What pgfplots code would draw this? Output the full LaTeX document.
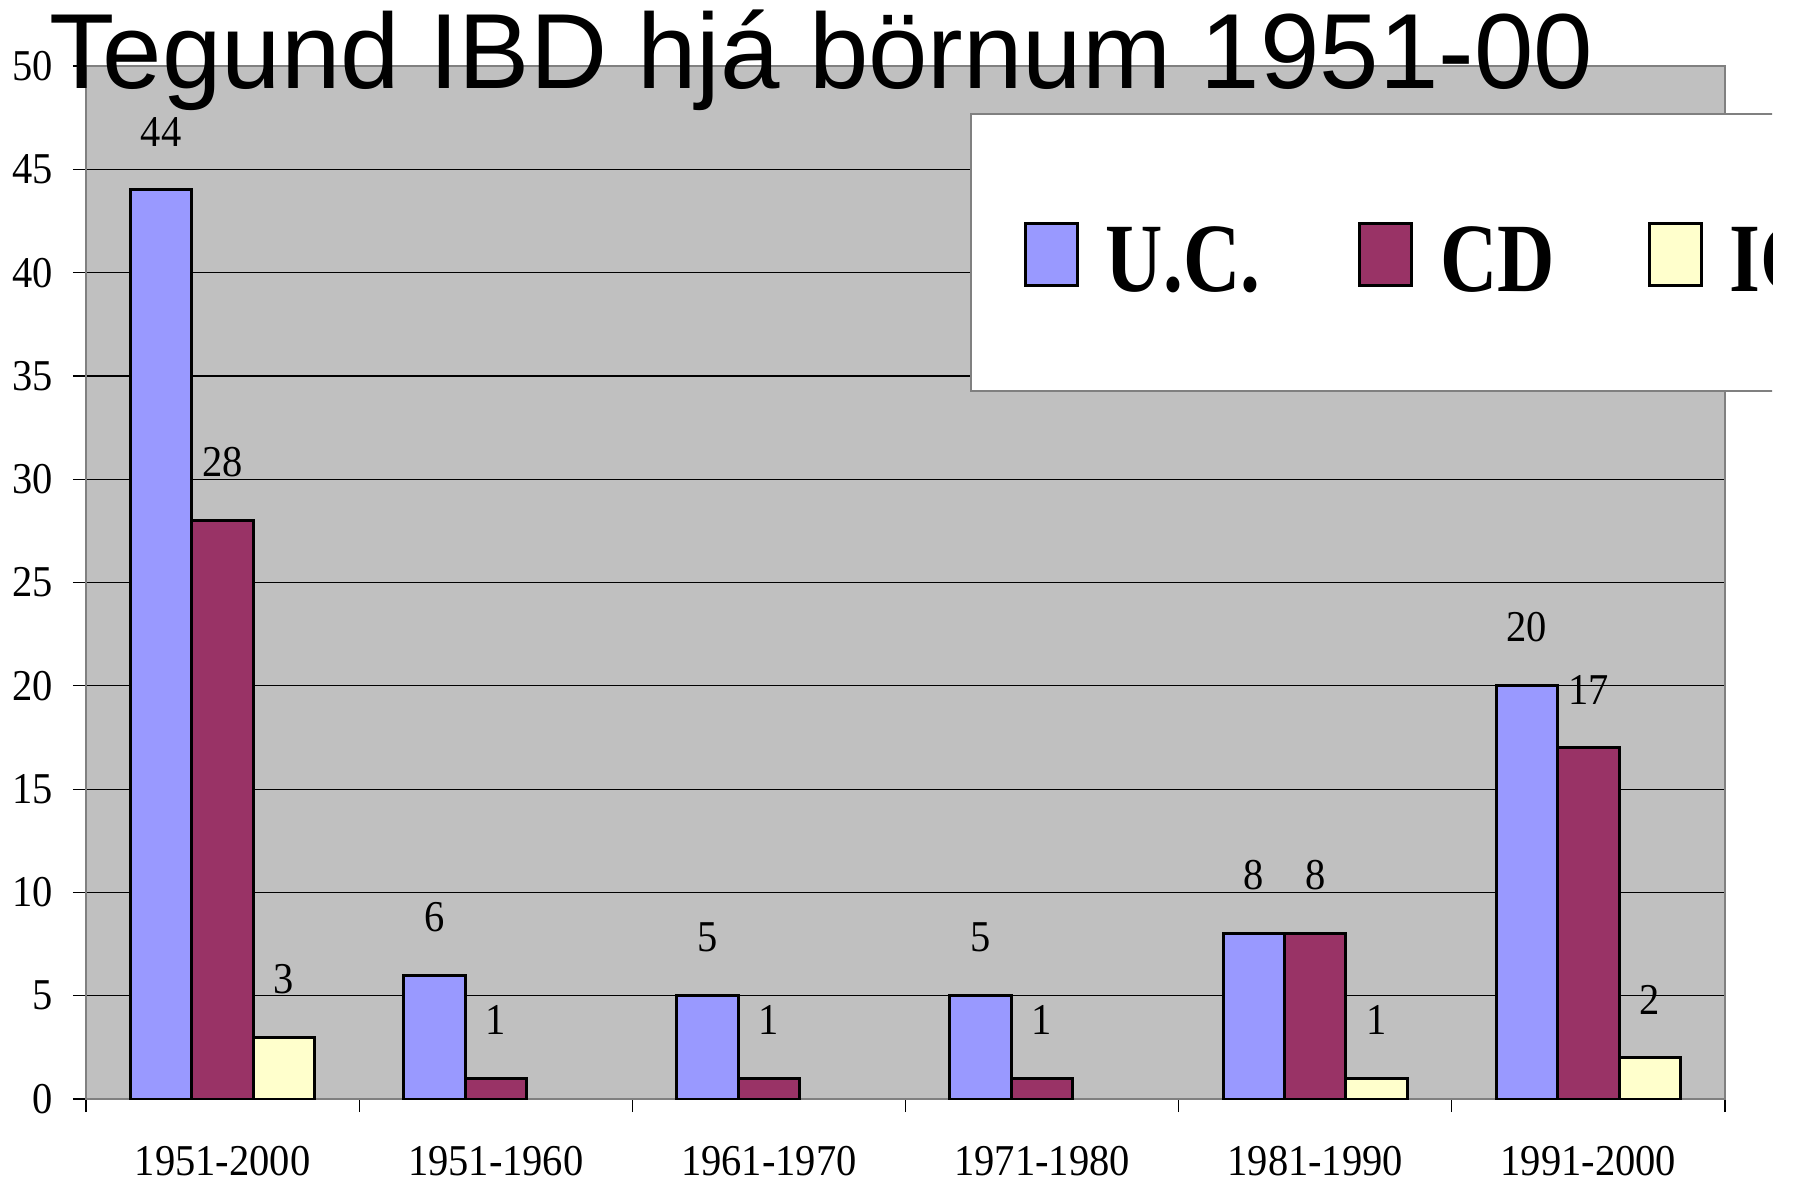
\documentclass[border=0pt]{standalone}
\usepackage{graphicx}
\usepackage{fontspec}
\setmainfont{Liberation Serif}
\newfontfamily\titlefont{Liberation Sans}
\usepackage{pgfplots}
\pgfplotsset{compat=1.18}
\definecolor{bgray}{HTML}{C0C0C0}
\definecolor{ucc}{HTML}{9999FF}
\definecolor{cdc}{HTML}{993366}
\definecolor{icc}{HTML}{FFFFCC}
\definecolor{framec}{HTML}{808080}
\newcommand{\sx}[1]{\scalebox{0.92}[1]{#1}}
\newcommand{\lx}[1]{\raisebox{-3pt}[32.4pt][0pt]{\scalebox{0.81}[1]{#1}}}
\pgfplotsset{mylegend/.style={legend image code/.code={\path[draw=none,fill=none] (0pt,-15.5pt) rectangle (26pt,19.5pt);\draw[##1] (0pt,-15.5pt) rectangle (26pt,15.5pt);}}}
\begin{document}
\begin{tikzpicture}
\useasboundingbox (0,0) rectangle (897pt,-591pt);
\clip (0,0) rectangle (886pt,-591pt);
\begin{axis}[
  at={(43pt,-549.5pt)}, anchor=south west,
  scale only axis, width=819.5pt, height=516.5pt,
  xmin=-0.5, xmax=5.5, ymin=0, ymax=50,
  axis background/.style={fill=bgray},
  axis line style={draw=framec, line width=1.2pt},
  ybar=0pt, bar width=0.225,
  xtick={-0.5,0.5,...,5.5},
  x tick label as interval,
  xticklabels={\sx{1951-2000},\sx{1951-1960},\sx{1961-1970},\sx{1971-1980},\sx{1981-1990},\sx{1991-2000}},
  ytick={0,5,...,50},
  yticklabels={\sx{0},\sx{5},\sx{10},\sx{15},\sx{20},\sx{25},\sx{30},\sx{35},\sx{40},\sx{45},\sx{50}},
  tick pos=left, tick align=outside,
  major tick length=6.5pt,
  tick style={black, line width=0.6pt},
  tick label style={font=\fontsize{22}{24}\selectfont, inner sep=0pt},
  xticklabel shift=17pt,
  yticklabel shift=9.8pt,
  ymajorgrids,
  grid style={black, line width=0.6pt},
  /pgf/number format/assume math mode=true,
  nodes near coords={\sx{\pgfmathprintnumber{\pgfplotspointmeta}}},
  every node near coord/.append style={font=\fontsize{22}{24}\selectfont, inner sep=0pt, yshift=21pt, black},
  legend style={at={(0.5394,0.9545)}, anchor=north west, draw=framec, line width=0.8pt, fill=white,
    inner xsep=26.5pt, inner ysep=51pt, column sep=13.5pt,
    font=\bfseries\fontsize{49}{55}\selectfont, nodes={inner sep=0pt}},
  legend columns=-1,
]
\addplot[mylegend, fill=ucc, draw=black, line width=1.5pt, bar shift=-0.225] coordinates {(0,44) (1,6) (2,5) (3,5) (4,8) (5,20)};
\addlegendentry{\lx{U.C.}\hspace*{35.5pt}}
\addplot[mylegend, fill=cdc, draw=black, line width=1.5pt, bar shift=0] coordinates {(0,28) (1,1) (2,1) (3,1) (4,8) (5,17)};
\addlegendentry{\lx{CD}\hspace*{33pt}}
\addplot[mylegend, fill=icc, draw=black, line width=1.5pt, bar shift=0.225] coordinates {(0,3) (4,1) (5,2)};
\addlegendentry{\lx{IC}}
\end{axis}
\node[anchor=base west, inner sep=0pt, font=\titlefont\fontsize{53.4}{60}\selectfont] at (24.5pt,-44.5pt) {Tegund IBD hjá börnum 1951-00};
\end{tikzpicture}
\end{document}
